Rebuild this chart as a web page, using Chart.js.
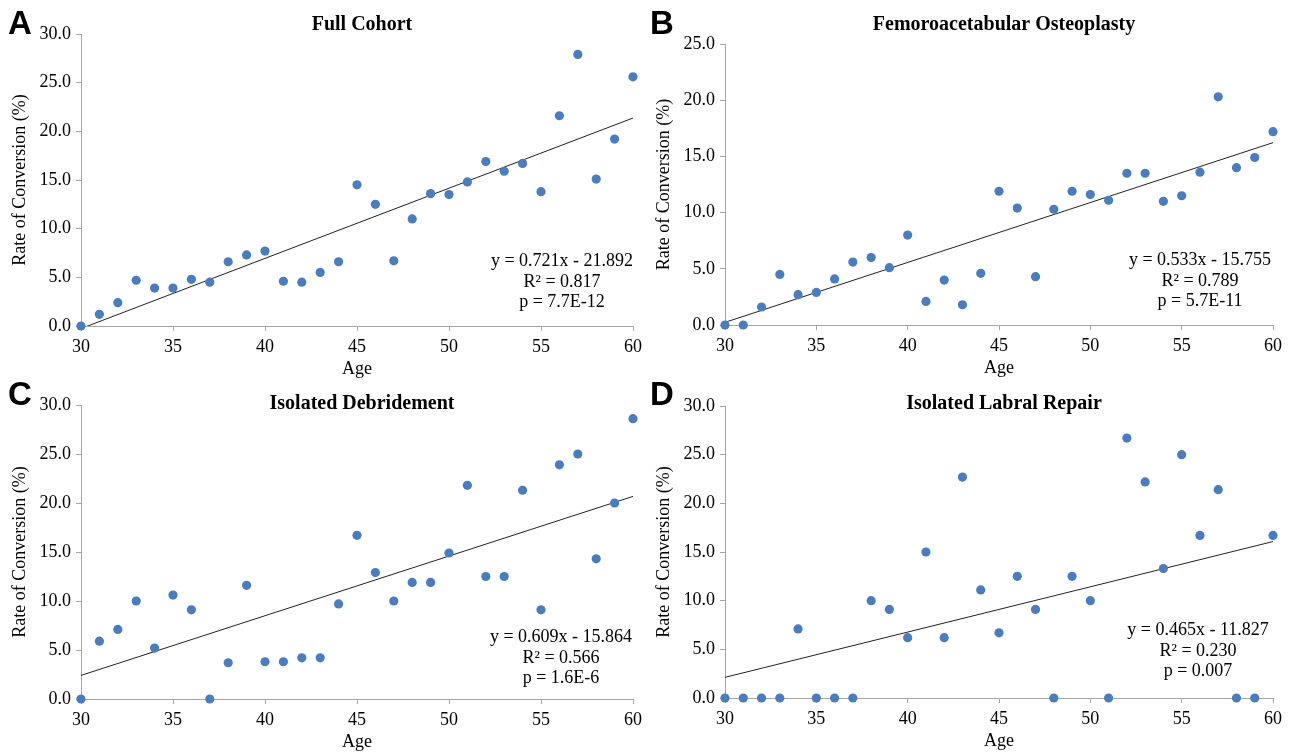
<!DOCTYPE html>
<html>
<head>
<meta charset="utf-8">
<script src="https://cdn.jsdelivr.net/npm/chart.js@4.4.1/dist/chart.umd.min.js"></script>
<style>
    html, body { margin: 0; padding: 0; background: #fff; }
    #wrap { position: relative; width: 1293px; height: 753px; overflow: hidden; }
    #wrap canvas { position: absolute; left: 0; top: 0; }
</style>
</head>
<body>
<div id="wrap">
    <canvas id="panel0" width="1293" height="753"></canvas>
    <canvas id="panel1" width="1293" height="753"></canvas>
    <canvas id="panel2" width="1293" height="753"></canvas>
    <canvas id="panel3" width="1293" height="753"></canvas>
</div>
<script>
// Datos
const ages = [30, 31, 32, 33, 34, 35, 36, 37, 38, 39, 40, 41, 42, 43, 44, 45,
    46, 47, 48, 49, 50, 51, 52, 53, 54, 55, 56, 57, 58, 59, 60];

const fullCohort = [0.0, 1.2, 2.4, 4.7, 3.9, 3.9, 4.8, 4.5, 6.6, 7.3, 7.7, 4.6, 4.5, 5.5, 6.6, 14.5,
    12.5, 6.7, 11.0, 13.6, 13.5, 14.8, 16.9, 15.9, 16.7, 13.8, 21.6, 27.9, 15.1, 19.2, 25.6];

const osteoplasty = [0.0, 0.0, 1.6, 4.5, 2.7, 2.9, 4.1, 5.6, 6.0, 5.1, 8.0, 2.1, 4.0, 1.8, 4.6, 11.9,
    10.4, 4.3, 10.3, 11.9, 11.6, 11.1, 13.5, 13.5, 11.0, 11.5, 13.6, 20.3, 14.0, 14.9, 17.2];

const debridement = [0.0, 5.9, 7.1, 10.0, 5.2, 10.6, 9.1, 0.0, 3.7, 11.6, 3.8, 3.8, 4.2, 4.2, 9.7, 16.7,
    12.9, 10.0, 11.9, 11.9, 14.9, 21.8, 12.5, 12.5, 21.3, 9.1, 23.9, 25.0, 14.3, 20.0, 28.6];

const labralRepair = [0.0, 0.0, 0.0, 0.0, 7.1, 0.0, 0.0, 0.0, 10.0, 9.1, 6.2, 15.0, 6.2, 22.7, 11.1, 6.7,
    12.5, 9.1, 0.0, 12.5, 10.0, 0.0, 26.7, 22.2, 13.3, 25.0, 16.7, 21.4, 0.0, 0.0, 16.7];

const panelSeries = [fullCohort, osteoplasty, debridement, labralRepair];
const panelTitles = ['Full Cohort', 'Femoroacetabular Osteoplasty', 'Isolated Debridement', 'Isolated Labral Repair'];
const panelLetters = ['A', 'B', 'C', 'D'];
const trendSlopes = [0.721, 0.533, 0.609, 0.465];
const trendIntercepts = [-21.892, -15.755, -15.864, -11.827];
const rSquared = ['0.817', '0.789', '0.566', '0.230'];
const pValues = ['7.7E-12', '5.7E-11', '1.6E-6', '0.007'];
const yMaxes = [30, 25, 30, 30];

// Posición de cada panel en la página (área de trazado: izq, arriba, der, abajo)
const layouts = [
    { area: [81, 34, 633, 326], titleY: 25, letter: [8, 34], note: [562, 261] },
    { area: [725, 44, 1273, 325], titleY: 25, letter: [650, 34], note: [1200, 260] },
    { area: [81, 405, 633, 699], titleY: 404, letter: [8, 405], note: [561, 637] },
    { area: [725, 406, 1273, 698], titleY: 404, letter: [650, 405], note: [1198, 630] }
];

const PAGE_W = 1293;
const PAGE_H = 753;
const Y_AXIS_W = 81;
const X_AXIS_H = 54;
const SERIF = '"Liberation Serif", "Times New Roman", serif';
const axisGray = '#a6a6a6';
const dotBlue = '#4a7dbf';

/**
 * Letra, título y ecuación de la tendencia
 */
const panelText = {
    id: 'panelText',
    afterDraw(chart, args, opts) {
        const { ctx, chartArea } = chart;
        const lay = opts.layout;
        ctx.save();
        ctx.fillStyle = '#000';

        ctx.font = 'bold 33px "Liberation Sans", Arial, sans-serif';
        ctx.textAlign = 'left';
        ctx.textBaseline = 'alphabetic';
        ctx.fillText(opts.letter, lay.letter[0], lay.letter[1]);

        ctx.font = 'bold 20px ' + SERIF;
        ctx.textAlign = 'center';
        ctx.textBaseline = 'middle';
        ctx.fillText(opts.title, (chartArea.left + chartArea.right) / 2 + 5, lay.titleY);

        ctx.font = '18px ' + SERIF;
        opts.lines.forEach((line, i) => {
            ctx.fillText(line, lay.note[0], lay.note[1] + i * 20.8);
        });
        ctx.restore();
    }
};

panelSeries.forEach((series, i) => {
    const lay = layouts[i];
    const [left, top, right, bottom] = lay.area;
    const m = trendSlopes[i];
    const b = trendIntercepts[i];
    const sign = b < 0 ? '-' : '+';

    new Chart(document.getElementById('panel' + i), {
        type: 'scatter',
        data: {
            datasets: [
                {
                    data: ages.map((a, k) => ({ x: a, y: series[k] })),
                    backgroundColor: dotBlue,
                    borderWidth: 0,
                    pointRadius: 4.6,
                    clip: false
                },
                {
                    data: [
                        { x: ages[0], y: m * ages[0] + b },
                        { x: ages[ages.length - 1], y: m * ages[ages.length - 1] + b }
                    ],
                    showLine: true,
                    borderColor: '#222',
                    borderWidth: 1,
                    pointRadius: 0,
                    clip: 0
                }
            ]
        },
        options: {
            responsive: false,
            animation: false,
            events: [],
            layout: {
                padding: {
                    left: left - Y_AXIS_W,
                    top: top,
                    right: PAGE_W - right,
                    bottom: PAGE_H - bottom - X_AXIS_H
                }
            },
            plugins: {
                legend: { display: false },
                tooltip: { enabled: false },
                panelText: {
                    layout: lay,
                    letter: panelLetters[i],
                    title: panelTitles[i],
                    lines: [
                        `y = ${m.toFixed(3)}x ${sign} ${Math.abs(b).toFixed(3)}`,
                        `R² = ${rSquared[i]}`,
                        `p = ${pValues[i]}`
                    ]
                }
            },
            scales: {
                x: {
                    type: 'linear',
                    min: 30,
                    max: 60,
                    afterFit: (s) => { s.height = X_AXIS_H; },
                    ticks: {
                        stepSize: 5,
                        color: '#000',
                        padding: 5,
                        maxRotation: 0,
                        font: { family: SERIF, size: 18 }
                    },
                    grid: { drawOnChartArea: false, color: axisGray, tickLength: 5 },
                    border: { color: axisGray, width: 1 },
                    title: {
                        display: true,
                        text: 'Age',
                        color: '#000',
                        padding: 0,
                        font: { family: SERIF, size: 18 }
                    }
                },
                y: {
                    min: 0,
                    max: yMaxes[i],
                    afterFit: (s) => { s.width = Y_AXIS_W; },
                    ticks: {
                        stepSize: 5,
                        color: '#000',
                        padding: 5,
                        font: { family: SERIF, size: 18 },
                        callback: (v) => Number(v).toFixed(1)
                    },
                    grid: { drawOnChartArea: false, color: axisGray, tickLength: 5 },
                    border: { color: axisGray, width: 1 },
                    title: {
                        display: true,
                        text: 'Rate of Conversion (%)',
                        color: '#000',
                        padding: { top: 9 },
                        font: { family: SERIF, size: 18 }
                    }
                }
            }
        },
        plugins: [panelText]
    });
});
</script>
</body>
</html>
